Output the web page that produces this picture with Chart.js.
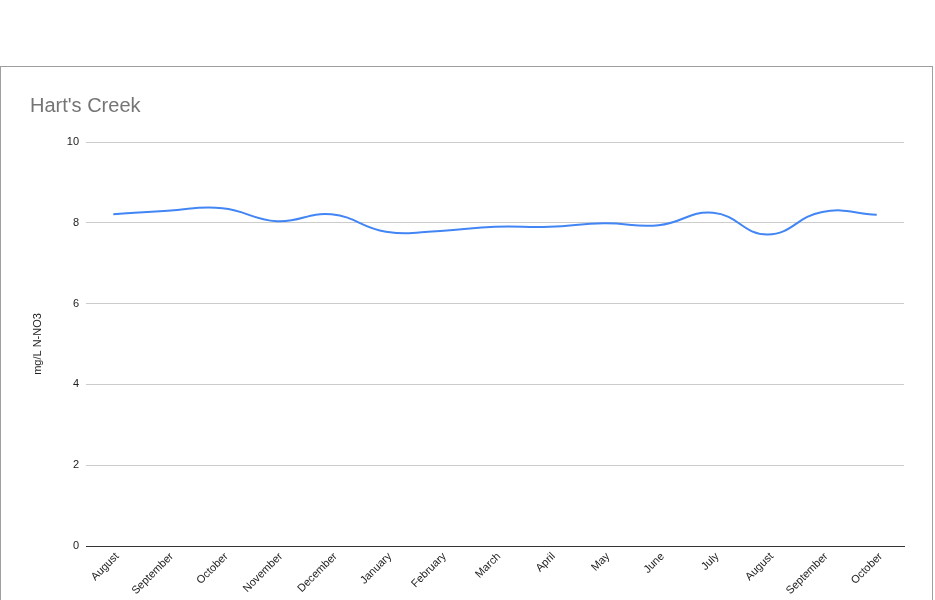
<!DOCTYPE html>
<html>
<head>
<meta charset="utf-8">
<script src="https://cdn.jsdelivr.net/npm/chart.js@4/dist/chart.umd.min.js"></script>
<style>
  html, body { margin: 0; padding: 0; background: #fff; overflow: hidden; }
  #frame { position: absolute; left: 0; top: 66px; width: 931px; height: 700px; border: 1px solid #9e9e9e; box-sizing: content-box; }
  #wrap { position: absolute; left: 0; top: 0; width: 935px; height: 600px; }
</style>
</head>
<body>
<div id="frame"></div>
<div id="wrap"><canvas id="c" width="935" height="600"></canvas></div>
<script>
const categories = ["August","September","October","November","December","January","February","March","April","May","June","July","August","September","October"];
const nitrate = [8.21, 8.30, 8.36, 8.04, 8.21, 7.78, 7.80, 7.90, 7.90, 7.99, 7.94, 8.25, 7.71, 8.27, 8.20];
const yTicks = [0, 2, 4, 6, 8, 10];

const FONT = "Arial, 'Liberation Sans', sans-serif";

new Chart(document.getElementById('c'), {
  type: 'line',
  data: {
    labels: categories,
    datasets: [{
      label: 'mg/L N-NO3',
      data: nitrate,
      borderColor: '#4285F4',
      backgroundColor: '#4285F4',
      borderWidth: 2,
      pointRadius: 0,
      pointHoverRadius: 0,
      tension: 0.45,
      fill: false
    }]
  },
  options: {
    responsive: false,
    animation: false,
    devicePixelRatio: 1,
    layout: { padding: { left: 30, right: 31, top: 0, bottom: 0 } },
    plugins: {
      legend: { display: false },
      tooltip: { enabled: false },
      title: {
        display: true,
        text: "Hart's Creek",
        align: 'start',
        color: '#757575',
        font: { family: FONT, size: 20, weight: 'normal', lineHeight: 1.2 },
        padding: { top: 94, bottom: 24 }
      }
    },
    scales: {
      x: {
        offset: true,
        grid: { display: false, drawTicks: false },
        border: { display: true, color: '#333333', width: 1 },
        ticks: {
          color: '#222222',
          font: { family: FONT, size: 11 },
          maxRotation: 45,
          minRotation: 45,
          autoSkip: false,
          padding: 4,
          labelOffset: 4
        },
        afterFit: (s) => { s.height = 54; }
      },
      y: {
        min: 0,
        max: 10,
        afterBuildTicks: (s) => { s.ticks = yTicks.map(v => ({ value: v })); },
        grid: {
          drawTicks: false,
          color: (ctx) => ctx.tick && ctx.tick.value === 0 ? '#333333' : '#cccccc',
          lineWidth: 1
        },
        border: { display: false },
        ticks: {
          color: '#222222',
          font: { family: FONT, size: 11 },
          padding: 7
        },
        title: {
          display: true,
          text: 'mg/L N-NO3',
          color: '#222222',
          font: { family: FONT, size: 11 },
          padding: { top: 1, bottom: 0 }
        },
        afterFit: (s) => { s.width = 56; }
      }
    }
  }
});
</script>
</body>
</html>
